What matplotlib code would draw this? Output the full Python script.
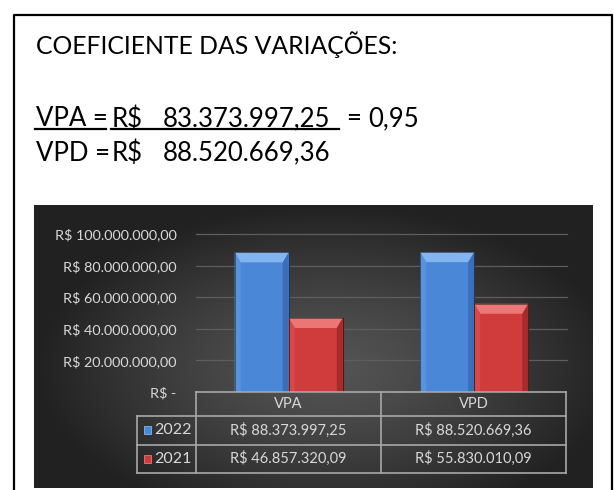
import numpy as np
import matplotlib
matplotlib.use("Agg")
import matplotlib.pyplot as plt
from matplotlib.patches import Polygon, Rectangle
from matplotlib.lines import Line2D
from matplotlib.transforms import IdentityTransform

W, H = 614, 490

categories = ["VPA", "VPD"]
years = ["2022", "2021"]
values_2022 = [88373997.25, 88520669.36]
values_2021 = [46857320.09, 55830010.09]
y_ticks = [0, 20e6, 40e6, 60e6, 80e6, 100e6]

title = "COEFICIENTE DAS VARIAÇÕES:"
vpa_value = "83.373.997,25"
vpd_value = "88.520.669,36"
ratio_text = "0,95"

plt.rcParams['font.family'] = ['Lato', 'DejaVu Sans']

fig = plt.figure(figsize=(W / 100, H / 100), dpi=100)
fig.patch.set_facecolor("white")


def fx(px):
    return px / W


def fy(py):
    # pixel measured from the top -> figure fraction
    return 1 - py / H


def brl(v):
    if v == 0:
        return "R$ -"
    s = f"{v:,.2f}".replace(",", "X").replace(".", ",").replace("X", ".")
    return "R$ " + s


# --- text block on top ---
fig.text(fx(35.5), fy(54), title, fontsize=17.8, va="baseline", ha="left", color="black")

line_y = [126.5, 160.5]
for i, (lab, val) in enumerate([("VPA =", vpa_value), ("VPD =", vpd_value)]):
    fig.text(fx(35.5), fy(line_y[i]), lab, fontsize=18.5, va="baseline", color="black")
    fig.text(fx(112), fy(line_y[i]), "R$", fontsize=18.5, va="baseline", color="black")
    fig.text(fx(163), fy(line_y[i]), val, fontsize=18.5, va="baseline", color="black")

fig.text(fx(346), fy(line_y[0]), "=", fontsize=18.5, va="baseline", color="black")
fig.text(fx(368), fy(line_y[0]), ratio_text, fontsize=18.5, va="baseline", color="black")

# underlines of the fraction numerator
for x0, x1 in [(35, 106), (111, 339)]:
    fig.add_artist(Line2D([fx(x0), fx(x1)], [fy(129.5), fy(129.5)], color="black", lw=1.6))

# outer frame (open at the bottom)
fig.add_artist(Line2D([fx(14), fx(14), fx(612), fx(612)], [fy(H + 2), fy(15), fy(15), fy(H + 2)],
                      color="black", lw=1.6))

# --- dark chart background with radial gradient ---
bg_l, bg_t, bg_r, bg_b = 34, 205, 593, 488
bg = fig.add_axes([fx(bg_l), fy(bg_b), fx(bg_r - bg_l), (bg_b - bg_t) / H])
gx, gy = np.meshgrid(np.linspace(-1, 1, 400), np.linspace(-1, 1, 300))
r = np.sqrt(((gx - 0.05) / 1.0) ** 2 + ((gy + 0.15) / 1.1) ** 2)
shade = np.clip(0.33 - 0.19 * r ** 1.3, 0.13, 0.34)
bg.imshow(np.dstack([shade, shade, shade]), extent=[0, 1, 0, 1], aspect="auto", origin="lower")
bg.set_axis_off()

# --- bar axes ---
ax = fig.add_axes([fx(196), fy(392), fx(567 - 196), (392 - 234) / H])
ax.set_facecolor("none")
ax.set_xlim(-0.5, 1.5)
ax.set_ylim(0, 100e6)
for s in ax.spines.values():
    s.set_visible(False)

for t in y_ticks[1:]:
    ax.axhline(t, color="#5e5e5e", lw=0.9, zorder=1, clip_on=False)

x = np.arange(len(categories))
bw = 0.2915
bars22 = ax.bar(x - bw / 2, values_2022, bw, color="#4a87d6", edgecolor="#24497c", lw=0.8, zorder=3)
bars21 = ax.bar(x + bw / 2, values_2021, bw, color="#d03b3b", edgecolor="#761a1a", lw=0.8, zorder=3)

ax.set_xticks([])
ax.set_yticks(y_ticks)
ax.set_yticklabels([brl(v) for v in y_ticks])
ax.tick_params(axis="y", length=0, pad=14, labelsize=10.4, labelcolor="#d9d9d9")

fig.canvas.draw()


def bevel(rect, top, left, right, d=6, dt=10):
    (px0, py0) = ax.transData.transform((rect.get_x(), rect.get_y()))
    (px1, py1) = ax.transData.transform((rect.get_x() + rect.get_width(), rect.get_y() + rect.get_height()))
    polys = [
        ([(px0, py1), (px1, py1), (px1 - d, py1 - dt), (px0 + d, py1 - dt)], top),
        ([(px0, py0), (px0, py1), (px0 + d, py1 - dt), (px0 + d, py0)], left),
        ([(px1, py0), (px1, py1), (px1 - d, py1 - dt), (px1 - d, py0)], right),
    ]
    for pts, c in polys:
        fig.add_artist(Polygon(pts, closed=True, facecolor=c, edgecolor="none",
                               transform=IdentityTransform(), zorder=4))
    fig.add_artist(Rectangle((px0, py0), px1 - px0, py1 - py0, facecolor="none", edgecolor="#1e1e1e",
                             lw=0.6, alpha=0.6, transform=IdentityTransform(), zorder=5))


for b in bars22:
    bevel(b, "#82b5f0", "#5893dc", "#3a6fb8")
for b in bars21:
    bevel(b, "#ec7777", "#d84848", "#a82a2a")

# --- data table under the axis ---
line_c = "#a8a8a8"
rows_y = [392, 415.5, 444.5, 473]
col_x = [137, 196, 381, 566]


def hline(y, x0, x1):
    fig.add_artist(Line2D([fx(x0), fx(x1)], [fy(y), fy(y)], color=line_c, lw=1.2, zorder=6))


def vline(x, y0, y1):
    fig.add_artist(Line2D([fx(x), fx(x)], [fy(y0), fy(y1)], color=line_c, lw=1.2, zorder=6))


hline(rows_y[0], col_x[1], col_x[3])
for yy in rows_y[1:]:
    hline(yy, col_x[0], col_x[3])
vline(col_x[0], rows_y[1], rows_y[3])
for xx in col_x[1:]:
    vline(xx, rows_y[0], rows_y[3])

txt_c = "#d9d9d9"
for i, cat in enumerate(categories):
    cx = (col_x[i + 1] + col_x[i + 2]) / 2
    fig.text(fx(cx), fy((rows_y[0] + rows_y[1]) / 2), cat, fontsize=10.5, color=txt_c, ha="center", va="center")
    fig.text(fx(cx), fy((rows_y[1] + rows_y[2]) / 2), brl(values_2022[i]), fontsize=10.5, color=txt_c,
             ha="center", va="center")
    fig.text(fx(cx), fy((rows_y[2] + rows_y[3]) / 2), brl(values_2021[i]), fontsize=10.5, color=txt_c,
             ha="center", va="center")

legend_cols = [("#4a87d6", "#82b5f0"), ("#d03b3b", "#ec7777")]
for j, yr in enumerate(years):
    cy = (rows_y[j + 1] + rows_y[j + 2]) / 2
    face, light = legend_cols[j]
    fig.add_artist(Rectangle((fx(144), fy(cy + 4)), fx(7), 8 / H, facecolor=face, edgecolor=light, lw=0.6))
    fig.text(fx(154), fy(cy), yr, fontsize=11.5, color=txt_c, ha="left", va="center")

fig.savefig("out.png", dpi=100)
